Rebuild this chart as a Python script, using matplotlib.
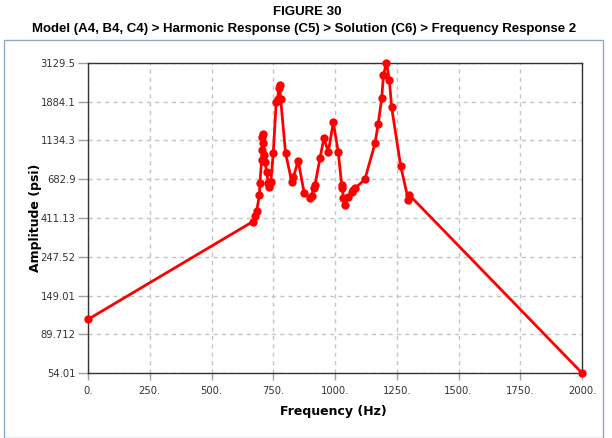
import matplotlib
matplotlib.use("Agg")
import matplotlib.pyplot as plt
from matplotlib.patches import Rectangle

# Frequency sweep (Hz) and amplitude (psi)
freq = [0, 667, 676, 683, 694, 696, 703, 706, 703, 707, 710, 714, 717, 723,
        730, 734, 740, 750, 762, 768, 772, 776, 780, 800, 825, 831, 851, 875,
        899, 905, 913, 919, 939, 955, 973, 993, 1013, 1027, 1030, 1034, 1040,
        1054, 1067, 1074, 1081, 1121, 1162, 1175, 1189, 1196, 1208, 1220,
        1229, 1266, 1297, 1301, 2000]
amp = [109, 392, 422, 452, 555, 647, 877, 996, 1190, 1243, 1091, 936, 858,
       752, 647, 619, 661, 958, 1880, 1950, 2250, 2340, 1950, 958, 661, 700,
       869, 572, 532, 545, 606, 633, 897, 1166, 978, 1436, 978, 633, 606, 532,
       487, 540, 578, 590, 606, 682, 1091, 1417, 1966, 2664, 3129.5, 2519,
       1761, 811, 520, 555, 54.01]

xticks = [0, 250, 500, 750, 1000, 1250, 1500, 1750, 2000]
xtick_labels = ["0.", "250.", "500.", "750.", "1000.", "1250.", "1500.", "1750.", "2000."]
yticks = [54.01, 89.712, 149.01, 247.52, 411.13, 682.9, 1134.3, 1884.1, 3129.5]
ytick_labels = ["54.01", "89.712", "149.01", "247.52", "411.13", "682.9", "1134.3", "1884.1", "3129.5"]

W, H = 612, 438
fig = plt.figure(figsize=(W / 100, H / 100), dpi=100)
fig.patch.set_facecolor("white")

# outer panel border
fig.patches.append(Rectangle((4 / W, 0.0), 599 / W, 1 - 40 / H, transform=fig.transFigure,
                             fill=False, edgecolor="#8fa8c8", linewidth=1.0))

title_font = ["Liberation Sans", "DejaVu Sans"]
fig.text(307 / W, 1 - 12 / H, "FIGURE 30", ha="center", va="center",
         fontsize=9.5, fontweight="bold", family=title_font)
fig.text(304 / W, 1 - 29 / H,
         "Model (A4, B4, C4) > Harmonic Response (C5) > Solution (C6) > Frequency Response 2",
         ha="center", va="center", fontsize=9.5, fontweight="bold", family=title_font)

ax = fig.add_axes([88 / W, 1 - 373 / H, (582 - 88) / W, (373 - 63) / H])
ax.set_yscale("log")
ax.plot(freq, amp, color="#ff0000", linewidth=2.0, marker="o", markersize=6,
        markeredgewidth=0, clip_on=False, zorder=3)

ax.set_xlim(0, 2000)
ax.set_ylim(54.01, 3129.5)
ax.set_xticks(xticks)
ax.set_xticklabels(xtick_labels)
ax.yaxis.set_minor_locator(matplotlib.ticker.NullLocator())
ax.set_yticks(yticks)
ax.set_yticklabels(ytick_labels)

ax.grid(True, color="#c4c4c4", linestyle=(0, (3, 3)), linewidth=1.0)
ax.set_axisbelow(True)
for s in ax.spines.values():
    s.set_color("#333333")
    s.set_linewidth(1.0)

ax.tick_params(axis="both", which="major", direction="out", length=7, width=1,
               color="#a0a0a0", labelsize=7.2, labelcolor="#333333", pad=2)
ax.tick_params(axis="x", length=5, pad=4)

ax.set_xlabel("Frequency (Hz)", fontsize=9, fontweight="bold")
ax.set_ylabel("Amplitude (psi)", fontsize=9, fontweight="bold")
ax.xaxis.set_label_coords((333 - 88) / 494, -(411 - 373) / 310, transform=ax.transAxes)
ax.yaxis.set_label_coords(-(88 - 36) / 494, (373 - 218) / 310, transform=ax.transAxes)
ax.xaxis.label.set_va("center")
ax.yaxis.label.set_va("center")

fig.savefig("out.png", dpi=100)
